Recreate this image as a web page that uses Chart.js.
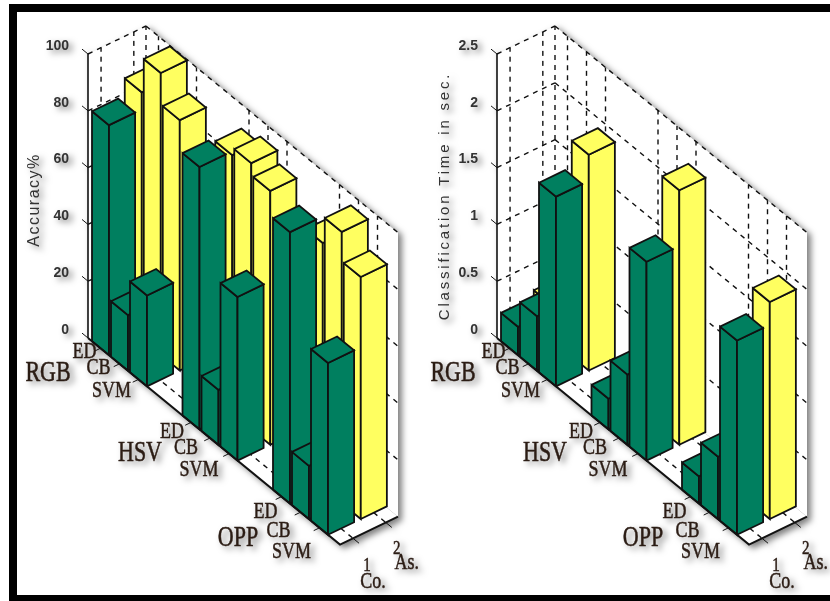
<!DOCTYPE html>
<html>
<head>
<meta charset="utf-8">
<script src="https://cdn.jsdelivr.net/npm/chart.js@4"></script>
<style>
  html, body { margin: 0; padding: 0; background: #fff; }
  #page { position: relative; width: 830px; height: 601px; overflow: hidden; background: #fff; }
  #frame { position: absolute; left: 9px; top: 4px; width: 821px; height: 597px; border: solid #000; border-width: 8px 0 6px 8px; box-sizing: border-box; }
  .panel { position: absolute; top: 0; height: 601px; filter: blur(0.5px) drop-shadow(4px 3px 3px rgba(0,0,0,0.5)); }
  #panelLeft { left: 0; width: 430px; }
  #panelRight { left: 415px; width: 415px; }
</style>
</head>
<body>
<div id="page">
  <div id="frame"></div>
  <div class="panel" id="panelLeft"><canvas id="accuracyChart" width="430" height="601"></canvas></div>
  <div class="panel" id="panelRight"><canvas id="timeChart" width="415" height="601"></canvas></div>
</div>
<script>
/* -------- Data -------- */
const colorSpaces = ["RGB", "HSV", "OPP"];
const methods = ["ED", "CB", "SVM"];
const seriesNames = ["Co.", "As."];
const seriesTicks = ["1", "2"];

const accuracyCo = [81, 19.6, 32, 92.4, 19.4, 57.6, 95.6, 18.8, 60.5];
const accuracyAs = [87, 99.3, 88.2, 91, 93.7, 89.4, 86.2, 95.6, 85.2];
const accuracyTicks = [0, 20, 40, 60, 80, 100];

const timeCo = [0.25, 0.48, 1.67, 0.27, 0.62, 1.75, 0.24, 0.55, 1.71];
const timeAs = [0.31, 0.35, 1.9, 0.3, 0.4, 2.24, 0.3, 0.4, 1.91];
const timeTicks = [0, 0.5, 1, 1.5, 2, 2.5];

/* -------- 3D view (oblique projection, px on screen) -------- */
const AXIS_Y0 = 338;        // screen y of the floor corner on the value axis
const AXIS_H = 284;         // screen height of the value axis
const DEPTH = 252;          // length of the category axis, along screen x
const SLOPE = 0.82;         // category axis: screen y per screen x
const WIDTH_X = 58, WIDTH_Y = 28;   // series axis, full width on screen
const ROW_START = 12.5, ROW_STEP = 19, GROUP_STEP = 90.5;
const BAR_HALF = 8.5;
const SERIES_V = [0.225, 0.79];
const BAR_V_HALF = 0.225;

const GREEN = "#007f5f", YELLOW = "#ffff60", INK = "#111";
const LABEL_INK = "#2b1c14";
const TEXT_STRETCH = 1.3;   // the serif labels are taller than wide in the source

const rowU = (g, m) => ROW_START + g * GROUP_STEP + m * ROW_STEP;

/* -------- label nudges, px -------- */
const rowLabelDx = [-16, -21, -27, -19, -24, -30, -16, -22, -28];
const rowLabelDy = [4, 4, 11, 9, 10, 16, 15, 19, 24];
const groupLabelX = [-40, 52, 150];
const groupLabelY = [373, 453, 538];
const seriesTickOff = [[14, 28], [11, 26]];
const seriesNameOff = [[20, 44], [21, 40]];

function stretched(ctx, text, x, y) {
  ctx.save();
  ctx.translate(x, y);
  ctx.scale(1, TEXT_STRETCH);
  ctx.fillText(text, 0, 0);
  ctx.strokeText(text, 0, 0);
  ctx.restore();
}

function buildChart(canvasId, cfg) {
  const zPx = AXIS_H / cfg.zMax;
  const project = (u, v, z) => ({
    x: u + v * WIDTH_X,
    y: z + (v * WIDTH_Y - u * SLOPE) / zPx
  });

  const paint = [];   // in painting order, back to front
  const poly = (pts, fillColor, stroke, width, dash) => {
    paint.push({
      data: pts,
      showLine: true,
      fill: fillColor ? "shape" : false,
      backgroundColor: fillColor || "transparent",
      borderColor: stroke || "transparent",
      borderWidth: stroke ? width : 0,
      borderDash: dash || [],
      borderJoinStyle: "miter",
      pointRadius: 0,
      tension: 0,
      clip: false
    });
  };
  const dashed = (a, b) => poly([a, b], null, INK, 1.4, [5, 5]);

  // walls and floor
  poly([project(0, 0, 0), project(0, 1, 0), project(0, 1, cfg.zMax), project(0, 0, cfg.zMax), project(0, 0, 0)], "#fff");
  poly([project(0, 1, 0), project(DEPTH, 1, 0), project(DEPTH, 1, cfg.zMax), project(0, 1, cfg.zMax), project(0, 1, 0)], "#fff");
  poly([project(0, 0, 0), project(0, 1, 0), project(DEPTH, 1, 0), project(DEPTH, 0, 0), project(0, 0, 0)], "#fff");

  // grid on walls and floor
  cfg.ticks.forEach(z => {
    if (z === 0) return;
    dashed(project(0, 0, z), project(0, 1, z));
    dashed(project(0, 1, z), project(DEPTH, 1, z));
  });
  SERIES_V.forEach(v => {
    dashed(project(0, v, 0), project(0, v, cfg.zMax));
    dashed(project(0, v, 0), project(DEPTH, v, 0));
  });
  dashed(project(0, 1, 0), project(0, 1, cfg.zMax));
  colorSpaces.forEach((_, g) => methods.forEach((_, m) => {
    const u = rowU(g, m);
    dashed(project(u, 1, 0), project(u, 1, cfg.zMax));
    dashed(project(u, 0, 0), project(u, 1, 0));
  }));

  // bars, as back first, then co.
  const bar = (g, m, s, value, color) => {
    const u = rowU(g, m);
    const ul = u - BAR_HALF, ur = u + BAR_HALF;
    const vl = SERIES_V[s] - BAR_V_HALF, vr = SERIES_V[s] + BAR_V_HALF;
    poly([project(ul, vl, 0), project(ur, vl, 0), project(ur, vl, value), project(ul, vl, value), project(ul, vl, 0)], color, INK, 1.8);
    poly([project(ur, vl, 0), project(ur, vr, 0), project(ur, vr, value), project(ur, vl, value), project(ur, vl, 0)], color, INK, 1.8);
    poly([project(ul, vl, value), project(ur, vl, value), project(ur, vr, value), project(ul, vr, value), project(ul, vl, value)], color, INK, 1.8);
  };
  [[cfg.as, 1, YELLOW], [cfg.co, 0, GREEN]].forEach(([vals, s, color]) => {
    colorSpaces.forEach((_, g) => methods.forEach((_, m) => {
      bar(g, m, s, vals[g * methods.length + m], color);
    }));
  });

  // solid axes and tick marks
  poly([project(0, 0, 0), project(0, 0, cfg.zMax)], null, INK, 1.6);
  poly([project(0, 0, 0), project(DEPTH, 0, 0), project(DEPTH, 1, 0)], null, INK, 2);
  cfg.ticks.forEach(z => poly([project(0, 0, z), project(-6, 0, z)], null, INK, 1));
  colorSpaces.forEach((_, g) => methods.forEach((_, m) => {
    const u = rowU(g, m);
    poly([project(u, 0, 0), project(u, -0.1, 0)], null, INK, 1);
  }));
  SERIES_V.forEach(v => poly([project(DEPTH, v, 0), project(DEPTH + 6, v, 0)], null, INK, 1));

  // text that sits on the 3D axes
  const textPlugin = {
    id: "axisText",
    afterDatasetsDraw(chart) {
      const { ctx, scales } = chart;
      const at = (p) => ({ x: scales.x.getPixelForValue(p.x), y: scales.y.getPixelForValue(p.y) });
      ctx.save();
      ctx.textAlign = "center";
      ctx.textBaseline = "middle";
      ctx.fillStyle = LABEL_INK;
      ctx.strokeStyle = LABEL_INK;
      ctx.lineWidth = 0.4;

      ctx.font = "18px 'Liberation Serif'";
      colorSpaces.forEach((_, g) => methods.forEach((name, m) => {
        const p = at(project(rowU(g, m), 0, 0));
        const i = g * methods.length + m;
        stretched(ctx, name, p.x + rowLabelDx[i], p.y + rowLabelDy[i]);
      }));

      ctx.font = "22px 'Liberation Serif'";
      colorSpaces.forEach((name, g) => {
        stretched(ctx, name, scales.x.getPixelForValue(groupLabelX[g] + cfg.nudge), groupLabelY[g]);
      });

      SERIES_V.forEach((v, s) => {
        const p = at(project(DEPTH, v, 0));
        ctx.font = "15px 'Liberation Serif'";
        stretched(ctx, seriesTicks[s], p.x + seriesTickOff[s][0], p.y + seriesTickOff[s][1]);
        ctx.font = "18px 'Liberation Serif'";
        stretched(ctx, seriesNames[s], p.x + seriesNameOff[s][0], p.y + seriesNameOff[s][1]);
      });

      // value axis title
      ctx.save();
      ctx.translate(cfg.titleX, cfg.titleY);
      ctx.rotate(-Math.PI / 2);
      ctx.font = cfg.titleFont;
      ctx.letterSpacing = cfg.titleSpacing;
      ctx.fillStyle = "#333";
      ctx.fillText(cfg.title, 0, 0);
      ctx.restore();
      ctx.restore();
    }
  };

  return new Chart(document.getElementById(canvasId), {
    type: "scatter",
    data: { datasets: paint.reverse() },   // index 0 is painted last
    plugins: [textPlugin],
    options: {
      responsive: false,
      animation: false,
      layout: { padding: 0 },
      plugins: { legend: { display: false }, tooltip: { enabled: false } },
      scales: {
        x: { type: "linear", display: false, min: 0, max: cfg.width - cfg.axisX },
        y: {
          type: "linear",
          min: (AXIS_Y0 - 601) / zPx,
          max: AXIS_Y0 / zPx,
          grid: { display: false },
          border: { display: false },
          afterBuildTicks: axis => { axis.ticks = cfg.ticks.map(value => ({ value })); },
          afterFit: axis => { axis.width = cfg.axisX; axis.paddingTop = 0; axis.paddingBottom = 0; },
          ticks: {
            autoSkip: false,
            padding: 11,
            labelOffset: -8,
            color: "#333",
            font: { family: "'Liberation Sans'", size: 14, weight: "bold" },
            callback: v => String(v)
          }
        }
      }
    }
  });
}

buildChart("accuracyChart", {
  co: accuracyCo, as: accuracyAs, ticks: accuracyTicks, zMax: 100, axisX: 88, width: 430, nudge: 0,
  title: "Accuracy%", titleX: 35, titleY: 200, titleFont: "16px 'Liberation Sans'", titleSpacing: "1.5px"
});
buildChart("timeChart", {
  co: timeCo, as: timeAs, ticks: timeTicks, zMax: 2.5, axisX: 82, width: 415, nudge: -4,
  title: "Classification Time in sec.", titleX: 30, titleY: 196, titleFont: "15px 'Liberation Sans'", titleSpacing: "2.8px"
});
</script>
</body>
</html>
